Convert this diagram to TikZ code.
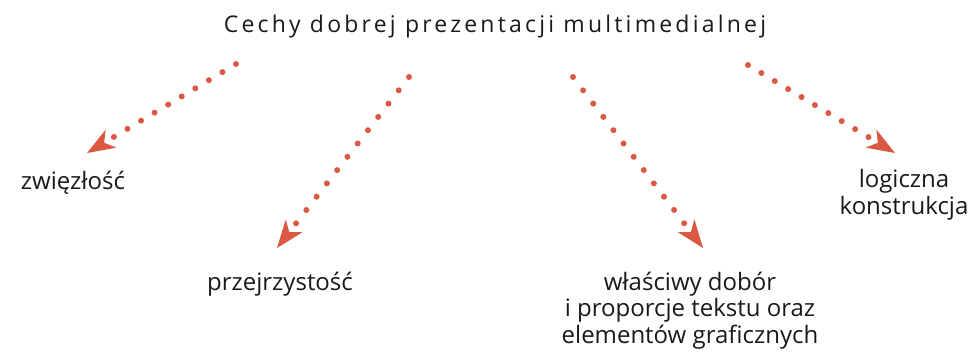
\documentclass[tikz,border=0pt]{standalone}
\usepackage{fontspec}
\setmainfont{Open Sans}
\newfontfamily\titlefont[LetterSpace=14]{Open Sans}
\usetikzlibrary{arrows.meta}
\definecolor{arrowred}{RGB}{219,88,66}
\definecolor{txt}{RGB}{26,26,26}
\tikzset{
  label/.style={text=txt, inner sep=0pt, align=center, font=\fontsize{24}{26.5}\selectfont},
  dotline/.style={draw=arrowred, line width=6pt, line cap=round, dash pattern=on 0pt off #1pt,
    -{Stealth[length=28pt,width=21pt,inset=8pt,line width=0pt]}}
}
\begin{document}
\begin{tikzpicture}[x=1pt,y=-1pt]
\useasboundingbox (0,0) rectangle (972,351);
\node[text=txt, inner sep=0pt, anchor=base, font=\titlefont\fontsize{23}{26}\selectfont] (title) at (495,32) {Cechy dobrej prezentacji multimedialnej};
\node[label, anchor=base] (a) at (73,189) {zwięzłość};
\node[label, anchor=base] (b) at (280,290) {przejrzystość};
\node[label, anchor=base] (c) at (690,343) {właściwy dobór\\i proporcje tekstu oraz\\elementów graficznych};
\node[label, anchor=base] (d) at (904,214) {logiczna\\konstrukcja};
\coordinate (s1) at (236,64);  \coordinate (t1) at (87,153);
\coordinate (s2) at (409,77);  \coordinate (t2) at (277,248);
\coordinate (s3) at (573,77);  \coordinate (t3) at (703,248);
\coordinate (s4) at (748,65);  \coordinate (t4) at (895,153);
\draw[dotline=15.8] (s1) -- (t1);
\draw[dotline=16.8] (s2) -- (t2);
\draw[dotline=16.7] (s3) -- (t3);
\draw[dotline=15.6] (s4) -- (t4);
\end{tikzpicture}
\end{document}
